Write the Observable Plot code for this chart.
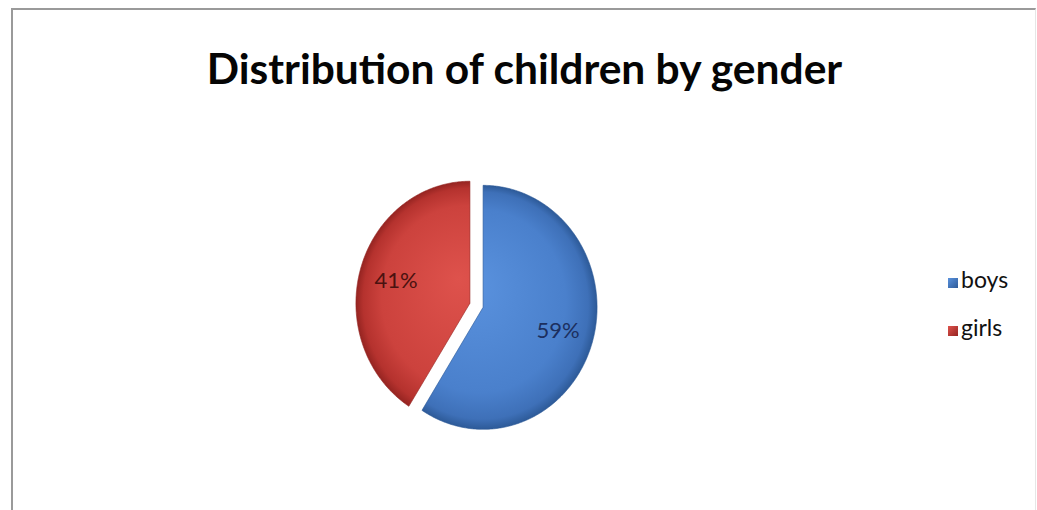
<!DOCTYPE html>
<html>
<head>
<meta charset="utf-8">
<script src="https://cdn.jsdelivr.net/npm/d3@7"></script>
<script src="https://cdn.jsdelivr.net/npm/@observablehq/plot@0.6"></script>
<style>
  html, body { margin: 0; padding: 0; background: #fff; }
  #page { position: relative; width: 1037px; height: 510px; overflow: hidden; font-family: Lato, "Open Sans", sans-serif; }
  #frame { position: absolute; left: 11px; top: 8px; width: 1022px; height: 530px;
           border-top: 2px solid #9a9a9a; border-left: 2px solid #9a9a9a; border-right: 1px solid #e6e6e6; }
  #title { position: absolute; left: 12px; width: 1025px; top: 47px; margin: 0;
           font-size: 42.5px; line-height: 42.5px; font-weight: 700; color: #050505; text-align: center; }
  #chart { position: absolute; left: 0; top: 130px; }
  .lg { position: absolute; left: 961px; font-size: 23px; line-height: 24px; color: #111; white-space: nowrap; }
  .sw { position: absolute; left: 948px; width: 10px; height: 10px; }
</style>
</head>
<body>
<div id="page">
  <div id="frame"></div>
  <h2 id="title"></h2>
  <div id="chart"></div>
  <div id="legend"></div>
</div>
<script>
// ---- data ----
const title = "Distribution of children by gender";
const categories = ["boys", "girls"];
const values = [59, 41];
const labels = ["59%", "41%"];
const colors = ["#4a80cc", "#cc423d"];

document.getElementById("title").textContent = title;

// pie layout (clockwise from 12 o'clock)
const arcs = d3.pie().sort(null).startAngle(0).endAngle(2 * Math.PI)(values);
const explode = 0.06;
const slices = arcs.map((a, i) => {
  const mid = (a.startAngle + a.endAngle) / 2;
  return {
    category: categories[i],
    label: labels[i],
    start: a.startAngle,
    end: a.endAngle,
    mid,
    ox: explode * Math.sin(mid),
    oy: explode * Math.cos(mid)
  };
});

const gradStops = {
  boys: [[0, "#5a92de"], [0.75, "#4a80cc"], [0.93, "#3e70b8"], [1, "#2d5a98"]],
  girls: [[0, "#de524c"], [0.75, "#cc423d"], [0.93, "#b5322e"], [1, "#952421"]]
};
const labelColors = { boys: "#1c2f5e", girls: "#4a1210" };

const cxPx = 476.5, cyPx = 175.3, rx = 114, ry = 122;

const pieMark = Plot.dot(slices, {
  x: "ox",
  y: "oy",
  render(index, scales) {
    const g = d3.create("svg:g");
    const defs = g.append("defs");
    for (const i of index) {
      const d = slices[i];
      const px = (a, r) => scales.x(d.ox + r * Math.sin(a));
      const py = (a, r) => scales.y(d.oy + r * Math.cos(a));
      const cx = scales.x(d.ox), cy = scales.y(d.oy);
      const rr = Math.abs(scales.x(1) - scales.x(0));
      const grad = defs.append("radialGradient")
        .attr("id", "grad-" + d.category)
        .attr("gradientUnits", "userSpaceOnUse")
        .attr("cx", cx).attr("cy", cy).attr("r", rr)
        .attr("fx", cx - rr * 0.1).attr("fy", cy - rr * 0.2)
        .attr("gradientTransform", `translate(${cx},${cy}) scale(1,${Math.abs(scales.y(1) - scales.y(0)) / rr}) translate(${-cx},${-cy})`);
      for (const [o, c] of gradStops[d.category]) grad.append("stop").attr("offset", o).attr("stop-color", c);
      const n = Math.max(8, Math.ceil((d.end - d.start) / 0.01));
      let path = `M${cx},${cy}`;
      for (let k = 0; k <= n; k++) {
        const a = d.start + (d.end - d.start) * k / n;
        path += `L${px(a, 1)},${py(a, 1)}`;
      }
      path += "Z";
      g.append("path")
        .attr("d", path)
        .attr("fill", `url(#grad-${d.category})`)
        .attr("stroke", gradStops[d.category][3][1])
        .attr("stroke-opacity", 0.6)
        .attr("stroke-width", 1);
    }
    return g.node();
  }
});

const chart = Plot.plot({
  width: 1037,
  height: 380,
  margin: 0,
  style: { background: "none", overflow: "visible" },
  x: { domain: [-1, 1], range: [cxPx - rx, cxPx + rx], axis: null },
  y: { domain: [-1, 1], range: [cyPx + ry, cyPx - ry], axis: null },
  marks: [
    pieMark,
    Plot.text(slices, {
      x: d => d.ox + 0.68 * Math.sin(d.mid),
      y: d => d.oy + 0.68 * Math.cos(d.mid),
      text: "label",
      fill: d => labelColors[d.category],
      fontSize: 22,
      fontFamily: "Lato, sans-serif"
    })
  ]
});
document.getElementById("chart").appendChild(chart);

// legend
const legend = document.getElementById("legend");
categories.forEach((c, i) => {
  const sw = document.createElement("span");
  sw.className = "sw";
  sw.style.top = (278 + i * 48) + "px";
  sw.style.background = `linear-gradient(135deg, ${gradStops[c][0][1]}, ${gradStops[c][3][1]})`;
  legend.appendChild(sw);
  const t = document.createElement("span");
  t.className = "lg";
  t.style.top = (267 + i * 48) + "px";
  t.textContent = c;
  legend.appendChild(t);
});
</script>
</body>
</html>
